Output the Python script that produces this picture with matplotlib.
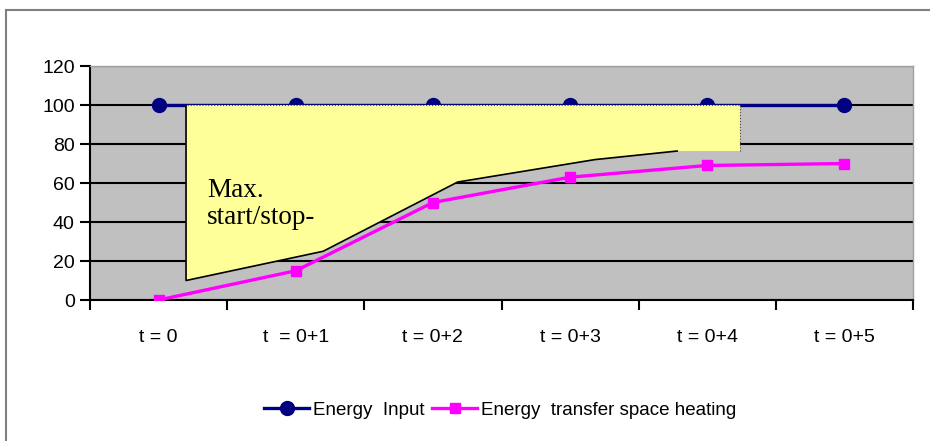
import matplotlib
matplotlib.use("Agg")
import matplotlib.pyplot as plt
from matplotlib.patches import Polygon, Rectangle
from matplotlib.lines import Line2D

# data
categories = ["t = 0", "t  = 0+1", "t = 0+2", "t = 0+3", "t = 0+4", "t = 0+5"]
energy_input = [100, 100, 100, 100, 100, 100]
energy_transfer = [0, 15, 50, 63, 69, 70]

# yellow annotation shape (data coords)
shape_x = [0.2, 0.2, 1.2, 2.18, 3.18, 3.78, 4.24, 4.24]
shape_y = [100, 10, 25, 60.5, 72, 76.4, 76.4, 100]
note_text = "Max.\nstart/stop-"

plt.rcParams['font.family'] = ['Liberation Sans', 'DejaVu Sans']

fig = plt.figure(figsize=(9.3, 4.41), dpi=100)
ax = fig.add_axes([0.0968, 0.3197, 0.8849, 0.5306])
ax.set_facecolor('#C0C0C0')

x = list(range(len(categories)))
ax.plot(x, energy_input, color='#000080', lw=2.4, marker='o', ms=10,
        label='Energy  Input', zorder=3)
ax.plot(x, energy_transfer, color='#FF00FF', lw=2.4, marker='s', ms=7.5,
        label='Energy  transfer space heating', zorder=5)

# annotation shape
poly = Polygon(list(zip(shape_x, shape_y)), closed=True, facecolor='#FFFF99',
               edgecolor='none', zorder=4)
ax.add_patch(poly)
ax.plot(shape_x[:6], shape_y[:6], color='black', lw=1.2, zorder=4)
ax.plot(shape_x[6:] + [shape_x[0]], shape_y[6:] + [shape_y[0]],
        color='#444444', lw=0.8, ls=':', zorder=4)
txt = ax.text(0.355, 62.5, note_text, family=['Liberation Serif', 'DejaVu Serif'],
              fontsize=19.5, va='top', ha='left', linespacing=1.1, zorder=6)
clip = Rectangle((0.2, 38), 4.04, 62, transform=ax.transData)
txt.set_clip_path(clip)

ax.set_xlim(-0.5, 5.5)
ax.set_ylim(0, 120)
ax.set_yticks(range(0, 121, 20))
ax.set_xticks(x)
ax.set_xticklabels(categories)
ax.set_xticks([i - 0.5 for i in range(len(categories) + 1)], minor=True)
ax.tick_params(axis='x', which='major', length=0, pad=21, labelsize=14)
ax.tick_params(axis='x', which='minor', length=7, width=1.5, direction='out')
ax.tick_params(axis='y', length=7, width=1.5, labelsize=14, pad=4)
ax.yaxis.grid(True, color='black', lw=1.5)
ax.set_axisbelow(True)
for s in ['left', 'bottom']:
    ax.spines[s].set_color('black')
    ax.spines[s].set_linewidth(1.5)
for s in ['top', 'right']:
    ax.spines[s].set_color('#A0A0A0')
    ax.spines[s].set_linewidth(1)

fig.legend(loc='center', bbox_to_anchor=(0.538, 0.07), ncol=2, frameon=False,
           fontsize=13.5, handlelength=2.4, handletextpad=0.2, columnspacing=0.4)

# outer frame
fig.add_artist(Line2D([6 / 930, 6 / 930], [0, 1 - 10 / 441], color='#808080', lw=1.5))
fig.add_artist(Line2D([6 / 930, 1], [1 - 10 / 441, 1 - 10 / 441], color='#808080', lw=1.5))

fig.savefig("out.png", dpi=100)
